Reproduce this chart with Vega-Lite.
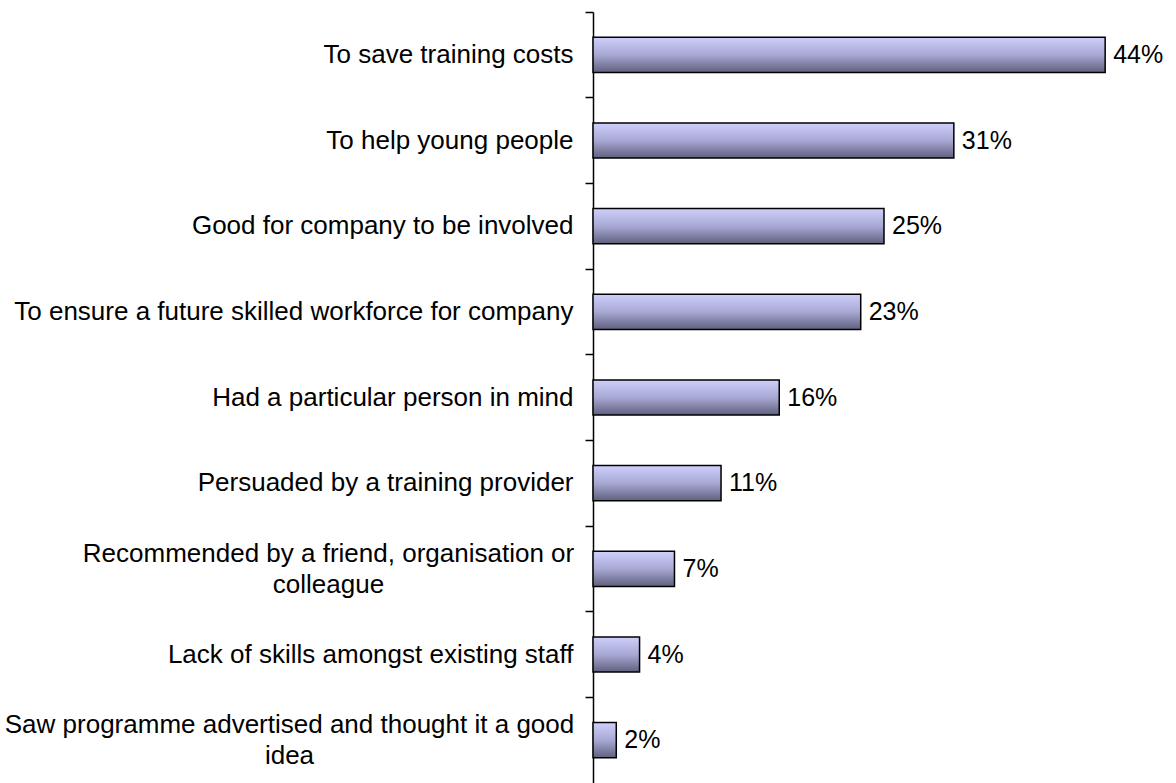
{
  "$schema": "https://vega.github.io/schema/vega-lite/v6.json",
  "width": 582,
  "height": 771,
  "autosize": {"type": "none"},
  "padding": {"left": 593, "top": 12, "right": 1, "bottom": 0},
  "background": "white",
  "config": {"view": {"stroke": null}},
  "data": {
    "values": [
      {"reason": "To save training costs", "pct": 0.44},
      {"reason": "To help young people", "pct": 0.31},
      {"reason": "Good for company to be involved", "pct": 0.25},
      {"reason": "To ensure a future skilled workforce for company", "pct": 0.23},
      {"reason": "Had a particular person in mind", "pct": 0.16},
      {"reason": "Persuaded by a training provider", "pct": 0.11},
      {"reason": "Recommended by a friend, organisation or|colleague", "pct": 0.07},
      {"reason": "Lack of skills amongst existing staff", "pct": 0.04},
      {"reason": "Saw programme advertised and thought it a good|idea", "pct": 0.02}
    ]
  },
  "encoding": {
    "y": {
      "field": "reason",
      "type": "nominal",
      "sort": null,
      "scale": {"paddingInner": 0, "paddingOuter": 0},
      "axis": {
        "title": null,
        "domain": true,
        "domainColor": "black",
        "domainWidth": 1.5,
        "ticks": true,
        "bandPosition": 0,
        "tickSize": 8,
        "tickColor": "black",
        "tickWidth": 1.5,
        "labelFont": "Liberation Sans",
        "labelFontSize": 26,
        "labelColor": "black",
        "labelLimit": 0,
        "labelLineHeight": 31,
        "labelExpr": "split(datum.value, '|')",
        "labelOffset": {
          "condition": {"test": "indexof(datum.value, '|') >= 0", "value": -15},
          "value": 0
        },
        "labelAlign": {
          "condition": {"test": "indexof(datum.value, '|') >= 0", "value": "center"},
          "value": "right"
        },
        "labelPadding": {
          "condition": [
            {"test": "indexof(datum.value, 'Recommended') == 0", "value": 257},
            {"test": "indexof(datum.value, 'Saw programme') == 0", "value": 296}
          ],
          "value": 12
        }
      }
    },
    "x": {
      "field": "pct",
      "type": "quantitative",
      "scale": {"domain": [0, 0.5], "nice": false},
      "axis": null
    }
  },
  "layer": [
    {
      "mark": {
        "type": "bar",
        "height": {"band": 0.41},
        "stroke": "black",
        "strokeWidth": 1.5,
        "fill": {
          "gradient": "linear",
          "x1": 0, "y1": 0, "x2": 0, "y2": 1,
          "stops": [
            {"offset": 0, "color": "#cfcffd"},
            {"offset": 0.5, "color": "#a8a8d4"},
            {"offset": 1, "color": "#60607e"}
          ]
        }
      }
    },
    {
      "mark": {
        "type": "text",
        "align": "left",
        "baseline": "middle",
        "dx": 8,
        "font": "Liberation Sans",
        "fontSize": 25,
        "color": "black"
      },
      "encoding": {
        "text": {"field": "pct", "type": "quantitative", "format": ".0%"}
      }
    }
  ]
}
